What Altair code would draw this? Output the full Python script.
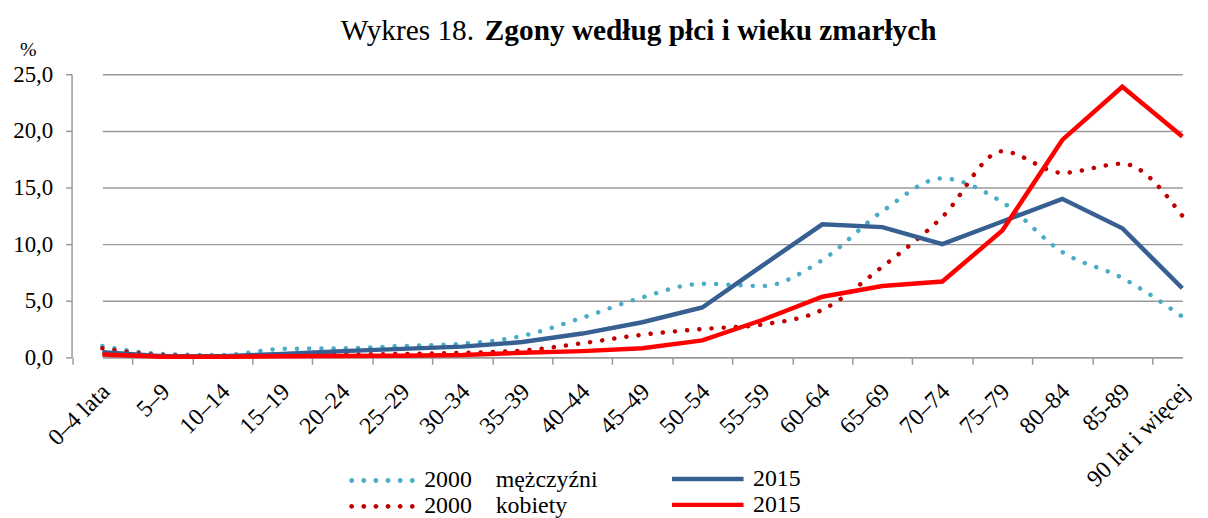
import altair as alt
import pandas as pd

# ---- data ----
wiek = ["0–4 lata", "5–9", "10–14", "15–19", "20–24", "25–29", "30–34", "35–39",
        "40–44", "45–49", "50–54", "55–59", "60–64", "65–69", "70–74", "75–79",
        "80–84", "85-89", "90 lat i więcej"]

mezczyzni_2000 = [1.0, 0.3, 0.2, 0.75, 0.8, 1.0, 1.2, 1.9, 3.5, 5.3, 6.5, 6.3, 8.6,
                  12.9, 15.8, 13.7, 9.3, 7.0, 3.6]
kobiety_2000 = [0.8, 0.2, 0.1, 0.2, 0.25, 0.3, 0.4, 0.6, 1.25, 2.0, 2.5, 2.9, 4.2,
                8.0, 12.4, 18.2, 16.3, 17.1, 12.5]
mezczyzni_2015 = [0.45, 0.1, 0.1, 0.3, 0.55, 0.75, 0.95, 1.35, 2.1, 3.1, 4.4, 8.1,
                  11.75, 11.5, 10.0, 12.0, 14.0, 11.4, 6.1]
kobiety_2015 = [0.25, 0.05, 0.05, 0.1, 0.12, 0.15, 0.2, 0.4, 0.55, 0.8, 1.5, 3.3,
                5.35, 6.3, 6.7, 11.2, 19.2, 23.9, 19.5]

serie = ["m2000", "k2000", "m2015", "k2015"]
kolory = ["#4BACC6", "#C00000", "#376092", "#FF0000"]
etykiety = ["2000\u00a0\u00a0\u00a0\u00a0mężczyźni", "2000\u00a0\u00a0\u00a0\u00a0kobiety",
            "2015", "2015"]
y_ticks = [0, 5, 10, 15, 20, 25]
tytul_nr = "Wykres 18."
tytul = "Zgony według płci i wieku zmarłych"
os_y_tytul = "%"

rows = []
for key, vals in zip(serie, [mezczyzni_2000, kobiety_2000, mezczyzni_2015, kobiety_2015]):
    for w, v in zip(wiek, vals):
        rows.append({"wiek": w, "seria": key, "procent": v})
df = pd.DataFrame(rows)

FONT = "Liberation Serif"
GRID = "#9a9a9a"
W, H = 1136, 285
STEP = 60.4

x_enc = alt.X(
    "wiek:N", sort=wiek,
    scale=alt.Scale(type="point", range=[31, 31 + 18 * STEP], padding=0),
    axis=alt.Axis(title=None, labelAngle=-45, labelAlign="right", labelBaseline="top",
                  labelFont=FONT, labelFontSize=24, labelColor="black",
                  tickOffset=-STEP / 2, labelOffset=STEP / 2 - 5, labelPadding=15,
                  tickSize=7, tickColor=GRID, tickWidth=1.5,
                  domainColor=GRID, domainWidth=1.5, grid=False, labelOverlap=False),
)
y_enc = alt.Y(
    "procent:Q",
    scale=alt.Scale(domain=[0, 25], nice=False),
    axis=alt.Axis(values=y_ticks,
                  labelExpr="replace(format(datum.value, '.1f'), '.', ',')",
                  labelFont=FONT, labelFontSize=23, labelColor="black", labelPadding=13,
                  tickSize=6, tickColor=GRID, tickWidth=1.5,
                  domainColor=GRID, domainWidth=1.5,
                  grid=True, gridColor=GRID, gridWidth=1.5,
                  title=os_y_tytul, titleAngle=0, titleX=-44, titleY=-25,
                  titleAlign="center", titleBaseline="middle", titleFont=FONT,
                  titleFontSize=20, titleFontWeight="normal", titleColor="black"),
)

# legend symbol for dotted series: six filled dots along a line
r = 0.08
dots = []
for i in range(6):
    cx = -1 + 0.4 * i
    dots.append(f"M{cx - r:.3f},0a{r},{r} 0 1,0 {2 * r:.3f},0a{r},{r} 0 1,0 {-2 * r:.3f},0Z")
DOT_PATH = "".join(dots)

DOT_SIZE = 3721      # 61 px long symbol
LINE_SIZE = 5184     # 72 px long symbol
ROW1, ROW2 = 407, 433   # legend row centres (plot coordinates)


def layer_for(i):
    dotted = i < 2
    size = DOT_SIZE if dotted else LINE_SIZE
    shift = 28.5 if dotted else 38
    legend_kw = dict(
        title=None, orient="none",
        legendX=282 if dotted else 602,
        legendY=(ROW1 if i % 2 == 0 else ROW2) - shift,
        symbolSize=size,
        labelFont=FONT, labelFontSize=24, labelColor="black",
        labelExpr="'" + etykiety[i] + "'",
        labelOffset=12 if dotted else 7, labelLimit=400, padding=0,
    )
    if dotted:
        legend_kw.update(symbolType=DOT_PATH, symbolFillColor=kolory[i],
                         symbolStrokeWidth=0)
        mark = alt.MarkDef(type="line", strokeWidth=4.5, strokeDash=[0.1, 12.2],
                           strokeCap="round", interpolate="monotone")
    else:
        legend_kw.update(symbolType="stroke", symbolStrokeWidth=4.5)
        mark = alt.MarkDef(type="line", strokeWidth=4.5)
    return alt.Chart(df, mark=mark).transform_filter(
        alt.datum.seria == serie[i]
    ).encode(
        x=x_enc, y=y_enc,
        color=alt.Color("seria:N",
                        scale=alt.Scale(domain=[serie[i]], range=[kolory[i]]),
                        legend=alt.Legend(**legend_kw)),
    )


t1 = alt.Chart(pd.DataFrame({"t": [tytul_nr]})).mark_text(
    align="left", baseline="alphabetic", font=FONT, fontSize=29.5, color="black"
).encode(text="t:N", x=alt.value(271), y=alt.value(-34))

t2 = alt.Chart(pd.DataFrame({"t": [tytul]})).mark_text(
    align="left", baseline="alphabetic", font=FONT, fontSize=29.5, fontWeight="bold",
    color="black"
).encode(text="t:N", x=alt.value(416), y=alt.value(-34))

chart = alt.layer(layer_for(0), layer_for(1), layer_for(2), layer_for(3), t1, t2
                  ).resolve_scale(color="independent").properties(
    width=W, height=H,
    autosize=alt.AutoSizeParams(type="none"),
    padding={"left": 64, "top": 65, "right": 0, "bottom": 160},
    background="white",
).configure_view(stroke=None)

chart.save("out.html", embed_options={"renderer": "svg", "actions": False})
